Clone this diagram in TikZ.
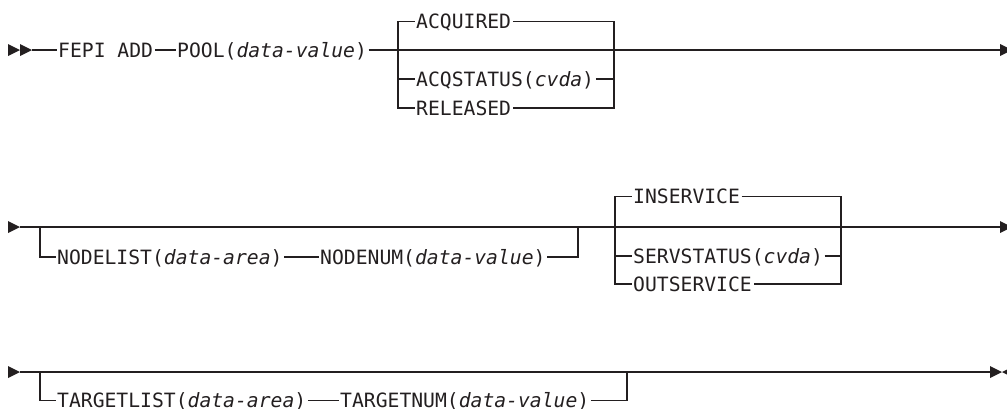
\documentclass[tikz,border=0pt]{standalone}
\usepackage{fontspec}
\newfontfamily\synfont{DejaVu Sans Mono}
\definecolor{ink}{HTML}{231F20}
\begin{document}
\begin{tikzpicture}[x=1pt,y=-1pt,
  kw/.style={inner xsep=1.5pt, inner ysep=0pt, anchor=base west,
    font=\synfont\fontsize{19.7}{21}\selectfont, text=ink},
  ln/.style={line width=1.2pt, draw=ink},
  tipfill/.style={fill=ink, draw=none}]
\useasboundingbox (0,0) rectangle (1007,408);
\begin{scope}
\clip (0,0) rectangle (1007,408);
% ---------- row 1 ----------
\fill[tipfill] (8,44) -- (20,50) -- (8,56) -- cycle;
\fill[tipfill] (20,44) -- (32,50) -- (20,56) -- cycle;
\coordinate (s1) at (32,50);
\coordinate (e1) at (1000,50);
\node[kw] (fepi) at (56.5,57.1) {FEPI ADD};
\node[kw] (pool) at (175.5,57.1) {POOL(\textit{data-value})};
\node[kw] (acq) at (414.5,28.6) {ACQUIRED};
\node[kw] (acqs) at (414.5,86.1) {ACQSTATUS(\textit{cvda})};
\node[kw] (rel) at (414.5,115.1) {RELEASED};
\coordinate (t1l) at (398,21.5);
\coordinate (t1r) at (614,21.5);
\coordinate (m1l) at (398,79);
\coordinate (m1r) at (614,79);
\coordinate (u1l) at (398,108);
\coordinate (u1r) at (614,108);
\draw[ln] (s1) -- (fepi.west |- s1);
\draw[ln] (fepi.east |- s1) -- (pool.west |- s1);
\draw[ln] (pool.east |- s1) -- (e1);
\draw[ln] (acq.west |- t1l) -- (t1l) -- (u1l) -- (rel.west |- u1l);
\draw[ln] (acq.east |- t1r) -- (t1r) -- (u1r) -- (rel.east |- u1r);
\draw[ln] (m1l) -- (acqs.west |- m1l);
\draw[ln] (acqs.east |- m1r) -- (m1r);
\fill[tipfill] (e1) ++(0,-6) -- ++(12,6) -- ++(-12,6) -- cycle;
% ---------- row 2 ----------
\fill[tipfill] (8,221) -- (20,227) -- (8,233) -- cycle;
\coordinate (s2) at (20,227);
\coordinate (e2) at (1000,227);
\draw[ln] (s2) -- (e2);
\fill[tipfill] (e2) ++(0,-6) -- ++(12,6) -- ++(-12,6) -- cycle;
\coordinate (o2a) at (40,227);
\coordinate (o2b) at (40,257);
\coordinate (o2c) at (578,257);
\coordinate (o2d) at (578,227);
\node[kw] (nl) at (55.5,264.1) {NODELIST(\textit{data-area})};
\node[kw] (nn) at (318.5,264.1) {NODENUM(\textit{data-value})};
\draw[ln] (o2a) -- (o2b) -- (nl.west |- o2b);
\draw[ln] (nl.east |- o2b) -- (nn.west |- o2b);
\draw[ln] (nn.east |- o2c) -- (o2c) -- (o2d);
\node[kw] (ins) at (631.5,203.6) {INSERVICE};
\node[kw] (svs) at (631.5,263.1) {SERVSTATUS(\textit{cvda})};
\node[kw] (outs) at (631.5,291.1) {OUTSERVICE};
\coordinate (t2l) at (615,196.5);
\coordinate (t2r) at (841,196.5);
\coordinate (m2l) at (615,256);
\coordinate (m2r) at (841,256);
\coordinate (u2l) at (615,284);
\coordinate (u2r) at (841,284);
\draw[ln] (ins.west |- t2l) -- (t2l) -- (u2l) -- (outs.west |- u2l);
\draw[ln] (ins.east |- t2r) -- (t2r) -- (u2r) -- (outs.east |- u2r);
\draw[ln] (m2l) -- (svs.west |- m2l);
\draw[ln] (svs.east |- m2r) -- (m2r);
% ---------- row 3 ----------
\fill[tipfill] (8,366) -- (20,372) -- (8,378) -- cycle;
\coordinate (s3) at (20,372);
\coordinate (e3) at (990,372);
\draw[ln] (s3) -- (e3);
\fill[tipfill] (e3) ++(0,-6) -- ++(12,6) -- ++(-12,6) -- cycle;
\fill[tipfill] (1002,372) -- (1014,366) -- (1014,378) -- cycle;
\coordinate (o3a) at (40,372);
\coordinate (o3b) at (40,400.5);
\coordinate (o3c) at (627,400.5);
\coordinate (o3d) at (627,372);
\node[kw] (tl) at (55.5,407.4) {TARGETLIST(\textit{data-area})};
\node[kw] (tn) at (338.5,407.4) {TARGETNUM(\textit{data-value})};
\draw[ln] (o3a) -- (o3b) -- (tl.west |- o3b);
\draw[ln] (tl.east |- o3b) -- (tn.west |- o3b);
\draw[ln] (tn.east |- o3c) -- (o3c) -- (o3d);
\end{scope}
\end{tikzpicture}
\end{document}
